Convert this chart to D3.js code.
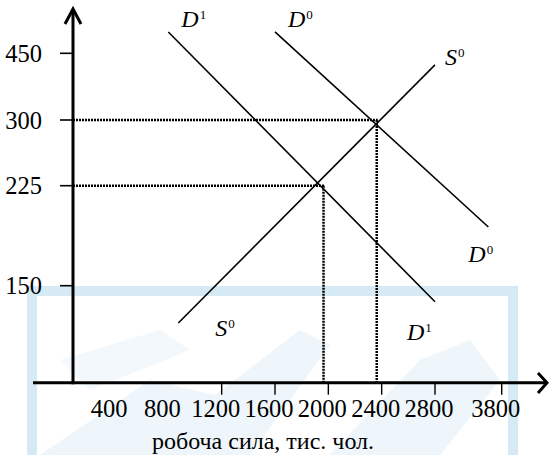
<!DOCTYPE html>
<html><head><meta charset="utf-8">
<script src="https://cdn.jsdelivr.net/npm/d3@7"></script>
<style>html,body{margin:0;padding:0;background:#fff;}svg{display:block;}</style>
</head><body>
<script>
// ---------- data ----------
const xTickLabels = [400, 800, 1200, 1600, 2000, 2400, 2800, 3800];
const xTickMarks = [1200, 1600, 2000, 2400, 2800, 3800];
const yTickLabels = [150, 225, 300, 450];
const xTitle = "робоча сила, тис. чол.";
// curves: [quantity, wage] endpoints
const curveNames = ["D1", "D0", "S0"];
const curveStart = [[800, 498], [1600, 498], [875, 122]];
const curveEnd = [[2800, 138], [3600, 194], [2800, 424]];
// equilibria (quantity, wage)
const eqQ = [1964, 2363];
const eqW = [225, 300];
// curve labels: [letter, superscript, curve index, which end]
const labelText = [["D","1",0,0],["D","0",1,0],["S","0",2,1],["S","0",2,0],["D","0",1,1],["D","1",0,1]];

// ---------- layout ----------
const W = 549, H = 455;
const axisX = 73, axisY = 382.7;
const labelOffset = [[13,-5],[13,-5],[10,0],[37,13],[-20,35],[-28,38]];

const svg = d3.select("body").append("svg").attr("width", W).attr("height", H);

// watermark
const wm = svg.append("g");
wm.append("path").attr("fill","#eef6fb")
  .attr("d","M40,455 L150,380 L215,395 L300,330 L330,345 L250,455 Z");
wm.append("path").attr("fill","#eef6fb")
  .attr("d","M330,455 L420,360 L470,340 L500,380 L440,455 Z");
wm.append("path").attr("fill","#f2f8fc")
  .attr("d","M60,360 L160,330 L190,350 L90,390 Z");
wm.append("path").attr("fill","none").attr("stroke","#d6eaf5").attr("stroke-width",10)
  .attr("d","M32,470 L32,291 L513,291 L513,470");

const x = d3.scaleLinear().domain([400, 2800, 3800]).range([115, 435, 501.7]);
const y = d3.scaleLinear().domain([150, 225, 300, 450]).range([285.7, 185.7, 120, 53.3]);

const serif = "'Liberation Serif', 'Times New Roman', serif";

// dotted guide lines
const dots = svg.append("g").attr("stroke","#000").attr("stroke-width",2.5).attr("stroke-dasharray","2,1");
eqQ.forEach((q,i)=>{
  dots.append("line").attr("x1",axisX).attr("x2",x(q)+1).attr("y1",y(eqW[i])).attr("y2",y(eqW[i]));
  dots.append("line").attr("x1",x(q)).attr("x2",x(q)).attr("y1",y(eqW[i])).attr("y2",axisY);
});

// curves
const line = d3.line().x(d=>x(d[0])).y(d=>y(d[1]));
curveNames.forEach((n,i)=>{
  svg.append("path").attr("d", line([curveStart[i], curveEnd[i]]))
    .attr("stroke","#000").attr("stroke-width",1.6).attr("fill","none");
});

// axes
const ax = svg.append("g").attr("stroke","#000").attr("fill","none").attr("stroke-linecap","butt");
ax.append("line").attr("x1",axisX).attr("x2",axisX).attr("y1",axisY+1.5).attr("y2",9).attr("stroke-width",3);
ax.append("path").attr("d",`M${axisX-8},24 L${axisX},9 L${axisX+8},24`).attr("stroke-width",3);
ax.append("line").attr("x1",33).attr("x2",547).attr("y1",axisY).attr("y2",axisY).attr("stroke-width",3);
ax.append("path").attr("d",`M538,373 L547,${axisY} L538,393`).attr("stroke-width",3);

// y ticks
yTickLabels.forEach(v=>{
  ax.append("line").attr("x1",axisX-13).attr("x2",axisX).attr("y1",y(v)).attr("y2",y(v)).attr("stroke-width",1.6);
  svg.append("text").attr("x",42).attr("y",y(v)+8.5).attr("text-anchor","end")
    .attr("font-family",serif).attr("font-size",24.5).text(v);
});
// x ticks
xTickMarks.forEach(v=>{
  ax.append("line").attr("x1",x(v)).attr("x2",x(v)).attr("y1",axisY).attr("y2",axisY+12).attr("stroke-width",1.4);
});
xTickLabels.forEach(v=>{
  svg.append("text").attr("x",x(v)-6).attr("y",417).attr("text-anchor","middle")
    .attr("font-family",serif).attr("font-size",24.5).text(v);
});
svg.append("text").attr("x",263).attr("y",449).attr("text-anchor","middle")
  .attr("font-family",serif).attr("font-size",24).text(xTitle);

// curve labels
labelText.forEach((l,i)=>{
  const p = l[3]===0 ? curveStart[l[2]] : curveEnd[l[2]];
  const t = svg.append("text").attr("x", x(p[0])+labelOffset[i][0]).attr("y", y(p[1])+labelOffset[i][1])
    .attr("font-family",serif).attr("font-size",24);
  t.append("tspan").attr("font-style","italic").text(l[0]);
  t.append("tspan").attr("font-size",13).attr("dy",-8).attr("dx",1).text(l[1]);
});
</script>
</body></html>
